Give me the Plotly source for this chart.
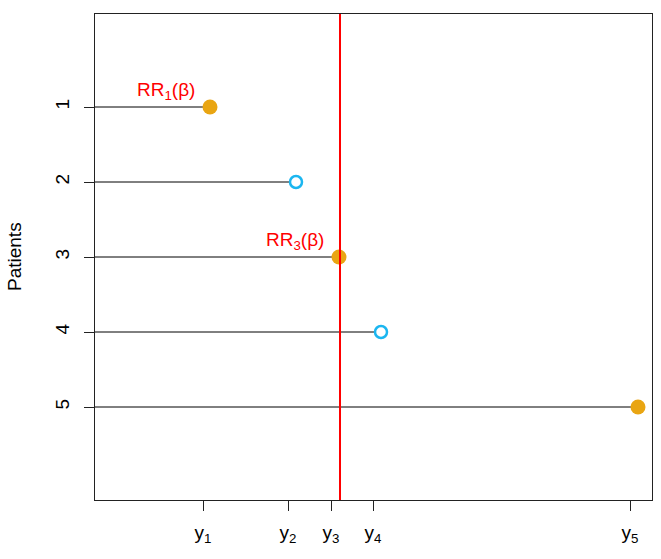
import plotly.graph_objects as go

patients = [1, 2, 3, 4, 5]
point_x = [1.15, 2.01, 2.44, 2.86, 5.43]
filled = [True, False, True, False, True]
tick_vals = [1.08, 1.93, 2.36, 2.78, 5.35]
tick_text = ["y<sub>1</sub>", "y<sub>2</sub>", "y<sub>3</sub>", "y<sub>4</sub>", "y<sub>5</sub>"]
ref_x = 2.45
labels = {1: "RR<sub>1</sub>(β)", 3: "RR<sub>3</sub>(β)"}

ORANGE = "#E9A512"
BLUE = "#1BB6F0"
FONT = "Liberation Sans, Arial, sans-serif"
FS = 19

fig = go.Figure()
for p, x in zip(patients, point_x):
    fig.add_trace(go.Scatter(x=[0, x], y=[p, p], mode="lines",
                             line=dict(color="black", width=1), showlegend=False, hoverinfo="skip"))

fx = [x for x, f in zip(point_x, filled) if f]
fy = [p for p, f in zip(patients, filled) if f]
ox = [x for x, f in zip(point_x, filled) if not f]
oy = [p for p, f in zip(patients, filled) if not f]
fig.add_trace(go.Scatter(x=fx, y=fy, mode="markers",
                         marker=dict(size=15, color=ORANGE, line=dict(width=0)), showlegend=False))
fig.add_trace(go.Scatter(x=ox, y=oy, mode="markers",
                         marker=dict(size=12, color="white", line=dict(width=2.5, color=BLUE)), showlegend=False))

fig.add_shape(type="line", x0=ref_x, x1=ref_x, y0=0, y1=1, yref="paper",
              line=dict(color="red", width=2))

for p, txt in labels.items():
    x = point_x[p - 1]
    fig.add_annotation(x=x, y=p, text=txt, showarrow=False, xanchor="right", yanchor="middle",
                       xshift=-13, yshift=16, font=dict(color="red", size=FS, family=FONT))

fig.add_annotation(x=0, xref="paper", xanchor="center", xshift=-81, y=0.5, yref="paper",
                   text="Patients", textangle=-90, showarrow=False,
                   font=dict(size=FS, family=FONT, color="black"))

fig.update_layout(
    width=661, height=559,
    margin=dict(l=95, r=9, t=14, b=59),
    plot_bgcolor="white", paper_bgcolor="white",
    font=dict(family=FONT, size=FS, color="black"),
    xaxis=dict(range=[0, 5.57], tickmode="array", tickvals=tick_vals, ticktext=tick_text,
               showgrid=False, zeroline=False, showline=True, linecolor="#222", mirror=True,
               ticks="outside", ticklen=10, tickcolor="#222", tickfont=dict(size=FS),
               ticklabelstandoff=5, automargin=False),
    yaxis=dict(range=[6.24, -0.24], tickmode="array", tickvals=patients, ticktext=[str(p) for p in patients],
               showgrid=False, zeroline=False, showline=True, linecolor="#222", mirror=True,
               ticks="outside", ticklen=10, tickcolor="#222", tickangle=-90, tickfont=dict(size=FS),
               ticklabelstandoff=7, automargin=False),
)

fig.write_html("out.html", config={"displayModeBar": False},
               post_script="document.body.style.margin='0';")
